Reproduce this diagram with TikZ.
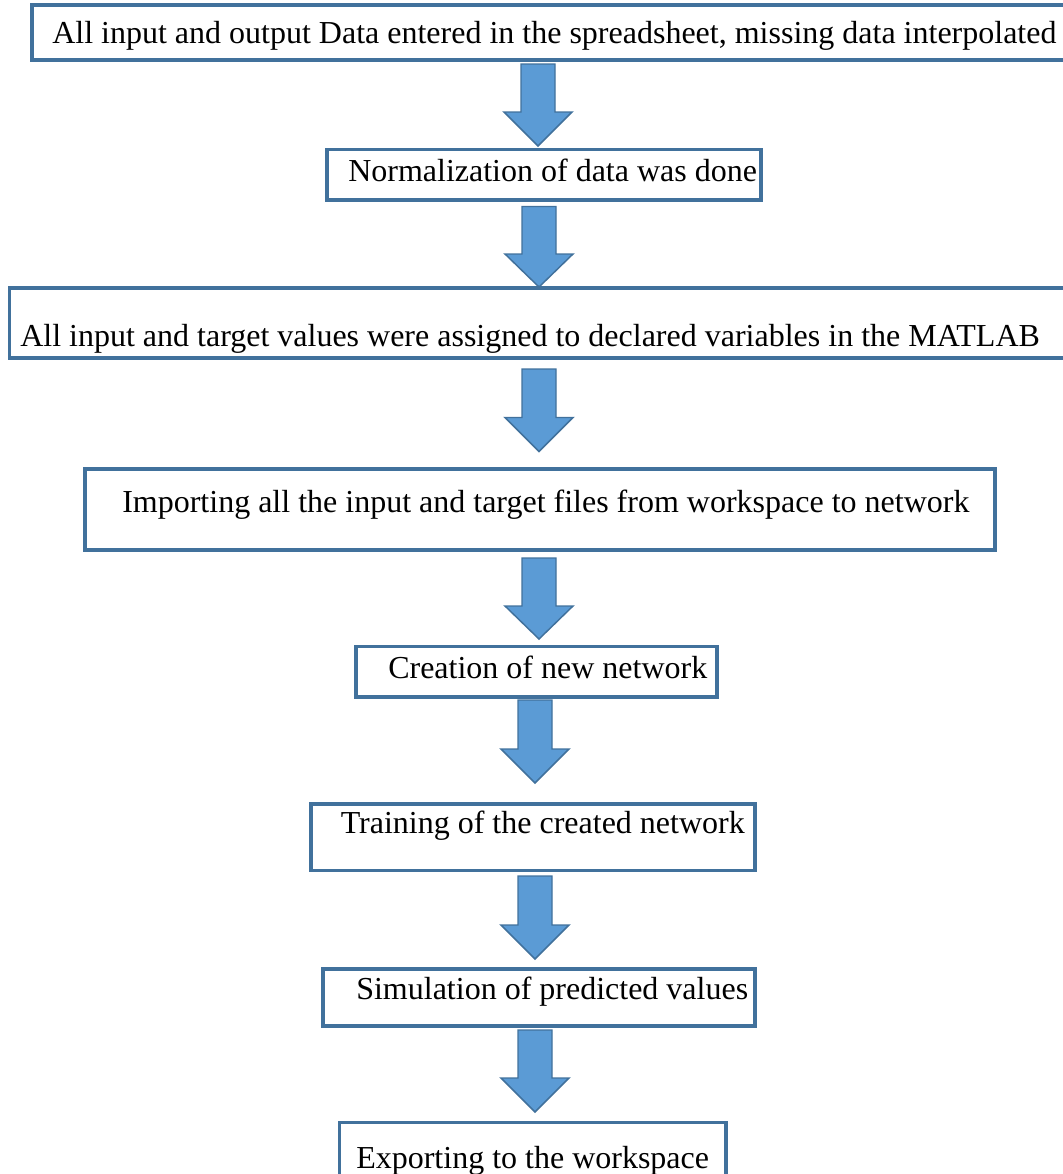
\documentclass[tikz,border=0pt]{standalone}
\usepackage{fontspec}
\setmainfont{Liberation Serif}
\definecolor{boxline}{HTML}{41719C}
\definecolor{arrowfill}{HTML}{5B9BD5}
\tikzset{
  stepbox/.style={draw=boxline, line width=2.5pt, fill=white, rectangle,
    inner sep=0pt, outer sep=0pt, anchor=north west},
  steptext/.style={anchor=base west, inner sep=0pt, text=black,
    font=\fontsize{24pt}{28pt}\selectfont},
  blockarrow/.style={draw=boxline, line width=1.1pt, fill=arrowfill, line join=miter}
}
% box from (x1,y1) to (x2,y2), in px, named #1
\newcommand{\flowbox}[5]{%
  \node[stepbox, minimum width={(#4-#2)*0.75pt}, minimum height={(#5-#3)*0.75pt}]
    (#1) at (#2,#3) {};}
% block arrow: centre x, shaft top, head base, tip
\newcommand{\flowarrow}[5]{%
  \draw[blockarrow] (#2-17,#3) -- (#2+17,#3) -- (#2+17,#4) -- (#2+34,#4)
    -- (#2,#5) coordinate (#1) -- (#2-34,#4) -- (#2-17,#4) -- cycle;}
\begin{document}
\begin{tikzpicture}[x=0.75pt, y=-0.75pt]
\useasboundingbox (0,0) rectangle (1063,1174);
\clip (0,0) rectangle (1063,1174);

\flowbox{b1}{32}{5}{1075}{60}
\flowbox{b2}{327}{149.5}{761}{200}
\flowbox{b3}{9.5}{288}{1075}{358}
\flowbox{b4}{85}{469}{995}{550}
\flowbox{b5}{356}{646.5}{717}{697}
\flowbox{b6}{311}{804}{755}{870.5}
\flowbox{b7}{323}{969}{755}{1026}
\flowbox{b8}{339.5}{1122.7}{726}{1190}

\node[steptext] (t1) at (52,43) {All input and output Data entered in the spreadsheet, missing data interpolated};
\node[steptext] (t2) at (348,181) {Normalization of data was done};
\node[steptext] (t3) at (20,346) {All input and target values were assigned to declared variables in the MATLAB};
\node[steptext] (t4) at (122,512) {Importing all the input and target files from workspace to network};
\node[steptext] (t5) at (388,678) {Creation of new network};
\node[steptext] (t6) at (340.5,833) {Training of the created network};
\node[steptext] (t7) at (356,999) {Simulation of predicted values};
\node[steptext] (t8) at (356,1168) {Exporting to the workspace};

\flowarrow{a1}{538}{64}{112}{146}
\flowarrow{a2}{539}{206.5}{254}{287}
\flowarrow{a3}{539}{369}{417.5}{451.5}
\flowarrow{a4}{539}{558}{606}{639}
\flowarrow{a5}{535}{700}{749}{783}
\flowarrow{a6}{535}{876}{925}{959}
\flowarrow{a7}{535}{1030}{1078}{1112}
\end{tikzpicture}
\end{document}
